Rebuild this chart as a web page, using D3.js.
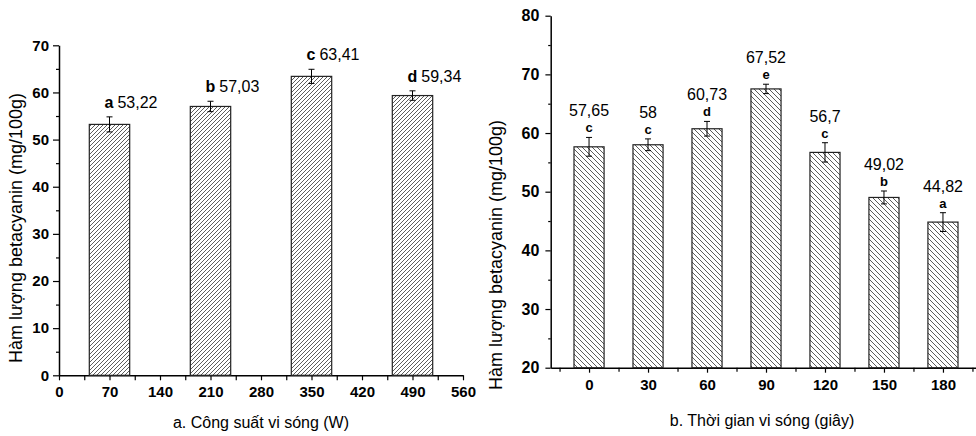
<!DOCTYPE html>
<html>
<head>
<meta charset="utf-8">
<script src="https://cdn.jsdelivr.net/npm/d3@7/dist/d3.min.js"></script>
<style>
body { margin: 0; background: #fff; }
svg { display: block; font-family: "Liberation Sans", Arial, sans-serif; }
.domain { stroke: #000; stroke-width: 1.5; }
.tick line { stroke: #000; stroke-width: 1.2; }
</style>
</head>
<body>
<svg></svg>
<script>
// a. microwave power (W)
const powerLevels = [70, 210, 350, 490];
const powerValues = [53.22, 57.03, 63.41, 59.34];
const powerErrors = [1.6, 1.1, 1.5, 1.0];
const powerLetters = ["a", "b", "c", "d"];
const powerXTicks = [0, 70, 140, 210, 280, 350, 420, 490, 560];
const powerYTicks = [0, 10, 20, 30, 40, 50, 60, 70];

// b. microwave time (s)
const timeLevels = ["0", "30", "60", "90", "120", "150", "180"];
const timeValues = [57.65, 58, 60.73, 67.52, 56.7, 49.02, 44.82];
const timeErrors = [1.6, 1.0, 1.25, 0.8, 1.65, 1.1, 1.6];
const timeLetters = ["c", "c", "d", "e", "c", "b", "a"];
const timeYTicks = [20, 30, 40, 50, 60, 70, 80];

const yTitle = "Hàm lượng betacyanin (mg/100g)";
const fmt = v => String(v).replace(".", ",");

const svg = d3.select("svg").attr("width", 976).attr("height", 436);
const defs = svg.append("defs");

function hatch(id, size, forward) {
    const p = defs.append("pattern")
        .attr("id", id)
        .attr("patternUnits", "userSpaceOnUse")
        .attr("width", size)
        .attr("height", size);
    p.append("rect").attr("width", size).attr("height", size).attr("fill", "#fff");
    const s = size;
    const d = forward
        ? `M-1,1 l2,-2 M0,${s} l${s},${-s} M${s - 1},${s + 1} l2,-2`
        : `M-1,${s - 1} l2,2 M0,0 l${s},${s} M${s - 1},-1 l2,2`;
    p.append("path").attr("d", d).attr("stroke", "#333").attr("stroke-width", 0.8);
}
hatch("hatchA", 4, true);
hatch("hatchB", 5, false);

function errorBars(g, data) {
    const e = g.append("g").attr("stroke", "#000").attr("stroke-width", 1);
    data.forEach(d => {
        e.append("line").attr("x1", d.x).attr("x2", d.x).attr("y1", d.top).attr("y2", d.bottom);
        e.append("line").attr("x1", d.x - 3).attr("x2", d.x + 3).attr("y1", d.top).attr("y2", d.top);
        e.append("line").attr("x1", d.x - 3).attr("x2", d.x + 3).attr("y1", d.bottom).attr("y2", d.bottom);
    });
}

// ---------- chart a ----------
{
    const x = d3.scaleLinear().domain([0, 560]).range([59, 463]);
    const y = d3.scaleLinear().domain([0, 70]).range([375.3, 45.3]);
    const g = svg.append("g");

    g.append("g")
        .attr("transform", `translate(0,${y(0)})`)
        .call(d3.axisBottom(x).tickValues(d3.range(35, 560, 70)).tickSize(5).tickSizeOuter(0).tickFormat(""))
        .call(a => a.select(".domain").remove());
    g.append("g")
        .attr("transform", `translate(${x(0)},0)`)
        .call(d3.axisLeft(y).tickValues(d3.range(5, 70, 10)).tickSize(3).tickSizeOuter(0).tickFormat(""))
        .call(a => a.select(".domain").remove());
    g.append("g")
        .attr("transform", `translate(0,${y(0)})`)
        .call(d3.axisBottom(x).tickValues(powerXTicks).tickSize(5).tickPadding(6).tickSizeOuter(0))
        .call(a => a.selectAll("text").attr("font-size", 15).attr("font-weight", "bold").attr("font-family", null));
    g.append("g")
        .attr("transform", `translate(${x(0)},0)`)
        .call(d3.axisLeft(y).tickValues(powerYTicks).tickSize(6).tickPadding(4).tickSizeOuter(0))
        .call(a => a.selectAll("text").attr("font-size", 15).attr("font-weight", "bold").attr("font-family", null));

    const bw = x(56) - x(0);
    g.append("g").selectAll("rect")
        .data(powerValues)
        .enter().append("rect")
        .attr("x", (d, i) => x(powerLevels[i]) - bw / 2)
        .attr("y", d => y(d))
        .attr("width", bw)
        .attr("height", d => y(0) - y(d))
        .attr("fill", "url(#hatchA)")
        .attr("stroke", "#222")
        .attr("stroke-width", 1.2);

    errorBars(g, powerValues.map((v, i) => ({
        x: x(powerLevels[i]), top: y(v + powerErrors[i]), bottom: y(v - powerErrors[i])
    })));

    const lab = g.append("g").selectAll("text")
        .data(powerValues)
        .enter().append("text")
        .attr("x", (d, i) => x(powerLevels[i]) - 5)
        .attr("y", (d, i) => y(d + powerErrors[i]) - 9)
        .attr("font-size", 16);
    lab.append("tspan").attr("font-weight", "bold").text((d, i) => powerLetters[i]);
    lab.append("tspan").attr("dx", 4).text(d => fmt(d));

    g.append("text")
        .attr("transform", `translate(22,228) rotate(-90)`)
        .attr("text-anchor", "middle")
        .attr("font-size", 18)
        .text(yTitle);
    g.append("text")
        .attr("x", x(280)).attr("y", 428)
        .attr("text-anchor", "middle")
        .attr("font-size", 16)
        .text("a. Công suất vi sóng (W)");
}

// ---------- chart b ----------
{
    const x = d3.scaleLinear().domain([-0.65, 6.65]).range([550.7, 981.3]);
    const y = d3.scaleLinear().domain([20, 80]).range([367.7, 15.7]);
    const g = svg.append("g");

    g.append("g")
        .attr("transform", `translate(0,${y(20)})`)
        .call(d3.axisBottom(x).tickValues(d3.range(-0.5, 7, 1)).tickSize(4).tickSizeOuter(0).tickFormat(""))
        .call(a => a.select(".domain").remove());
    g.append("g")
        .attr("transform", `translate(${x(-0.65)},0)`)
        .call(d3.axisLeft(y).tickValues(d3.range(25, 80, 10)).tickSize(2.5).tickSizeOuter(0).tickFormat(""))
        .call(a => a.select(".domain").remove());
    g.append("g")
        .attr("transform", `translate(0,${y(20)})`)
        .call(d3.axisBottom(x).tickValues(d3.range(0, 7)).tickSize(5).tickPadding(7).tickSizeOuter(0)
            .tickFormat(i => timeLevels[i]))
        .call(a => a.selectAll("text").attr("font-size", 15).attr("font-weight", "bold").attr("font-family", null));
    g.append("g")
        .attr("transform", `translate(${x(-0.65)},0)`)
        .call(d3.axisLeft(y).tickValues(timeYTicks).tickSize(5.3).tickPadding(6).tickSizeOuter(0))
        .call(a => a.selectAll("text").attr("font-size", 16).attr("font-weight", "bold").attr("font-family", null));

    const bw = x(0.51) - x(0);
    g.append("g").selectAll("rect")
        .data(timeValues)
        .enter().append("rect")
        .attr("x", (d, i) => x(i) - bw / 2)
        .attr("y", d => y(d))
        .attr("width", bw)
        .attr("height", d => y(20) - y(d))
        .attr("fill", "url(#hatchB)")
        .attr("stroke", "#222")
        .attr("stroke-width", 1.2);

    errorBars(g, timeValues.map((v, i) => ({
        x: x(i), top: y(v + timeErrors[i]), bottom: y(v - timeErrors[i])
    })));

    g.append("g").selectAll("text")
        .data(timeValues)
        .enter().append("text")
        .attr("x", (d, i) => x(i))
        .attr("y", (d, i) => y(d + timeErrors[i]) - 21)
        .attr("text-anchor", "middle")
        .attr("font-size", 16)
        .text(d => fmt(d));
    g.append("g").selectAll("text")
        .data(timeValues)
        .enter().append("text")
        .attr("x", (d, i) => x(i))
        .attr("y", (d, i) => y(d + timeErrors[i]) - 5)
        .attr("text-anchor", "middle")
        .attr("font-size", 13)
        .attr("font-weight", "bold")
        .text((d, i) => timeLetters[i]);

    g.append("text")
        .attr("transform", `translate(502,255) rotate(-90)`)
        .attr("text-anchor", "middle")
        .attr("font-size", 18)
        .text(yTitle);
    g.append("text")
        .attr("x", 762).attr("y", 426)
        .attr("text-anchor", "middle")
        .attr("font-size", 16)
        .text("b. Thời gian vi sóng (giây)");
}
</script>
</body>
</html>
